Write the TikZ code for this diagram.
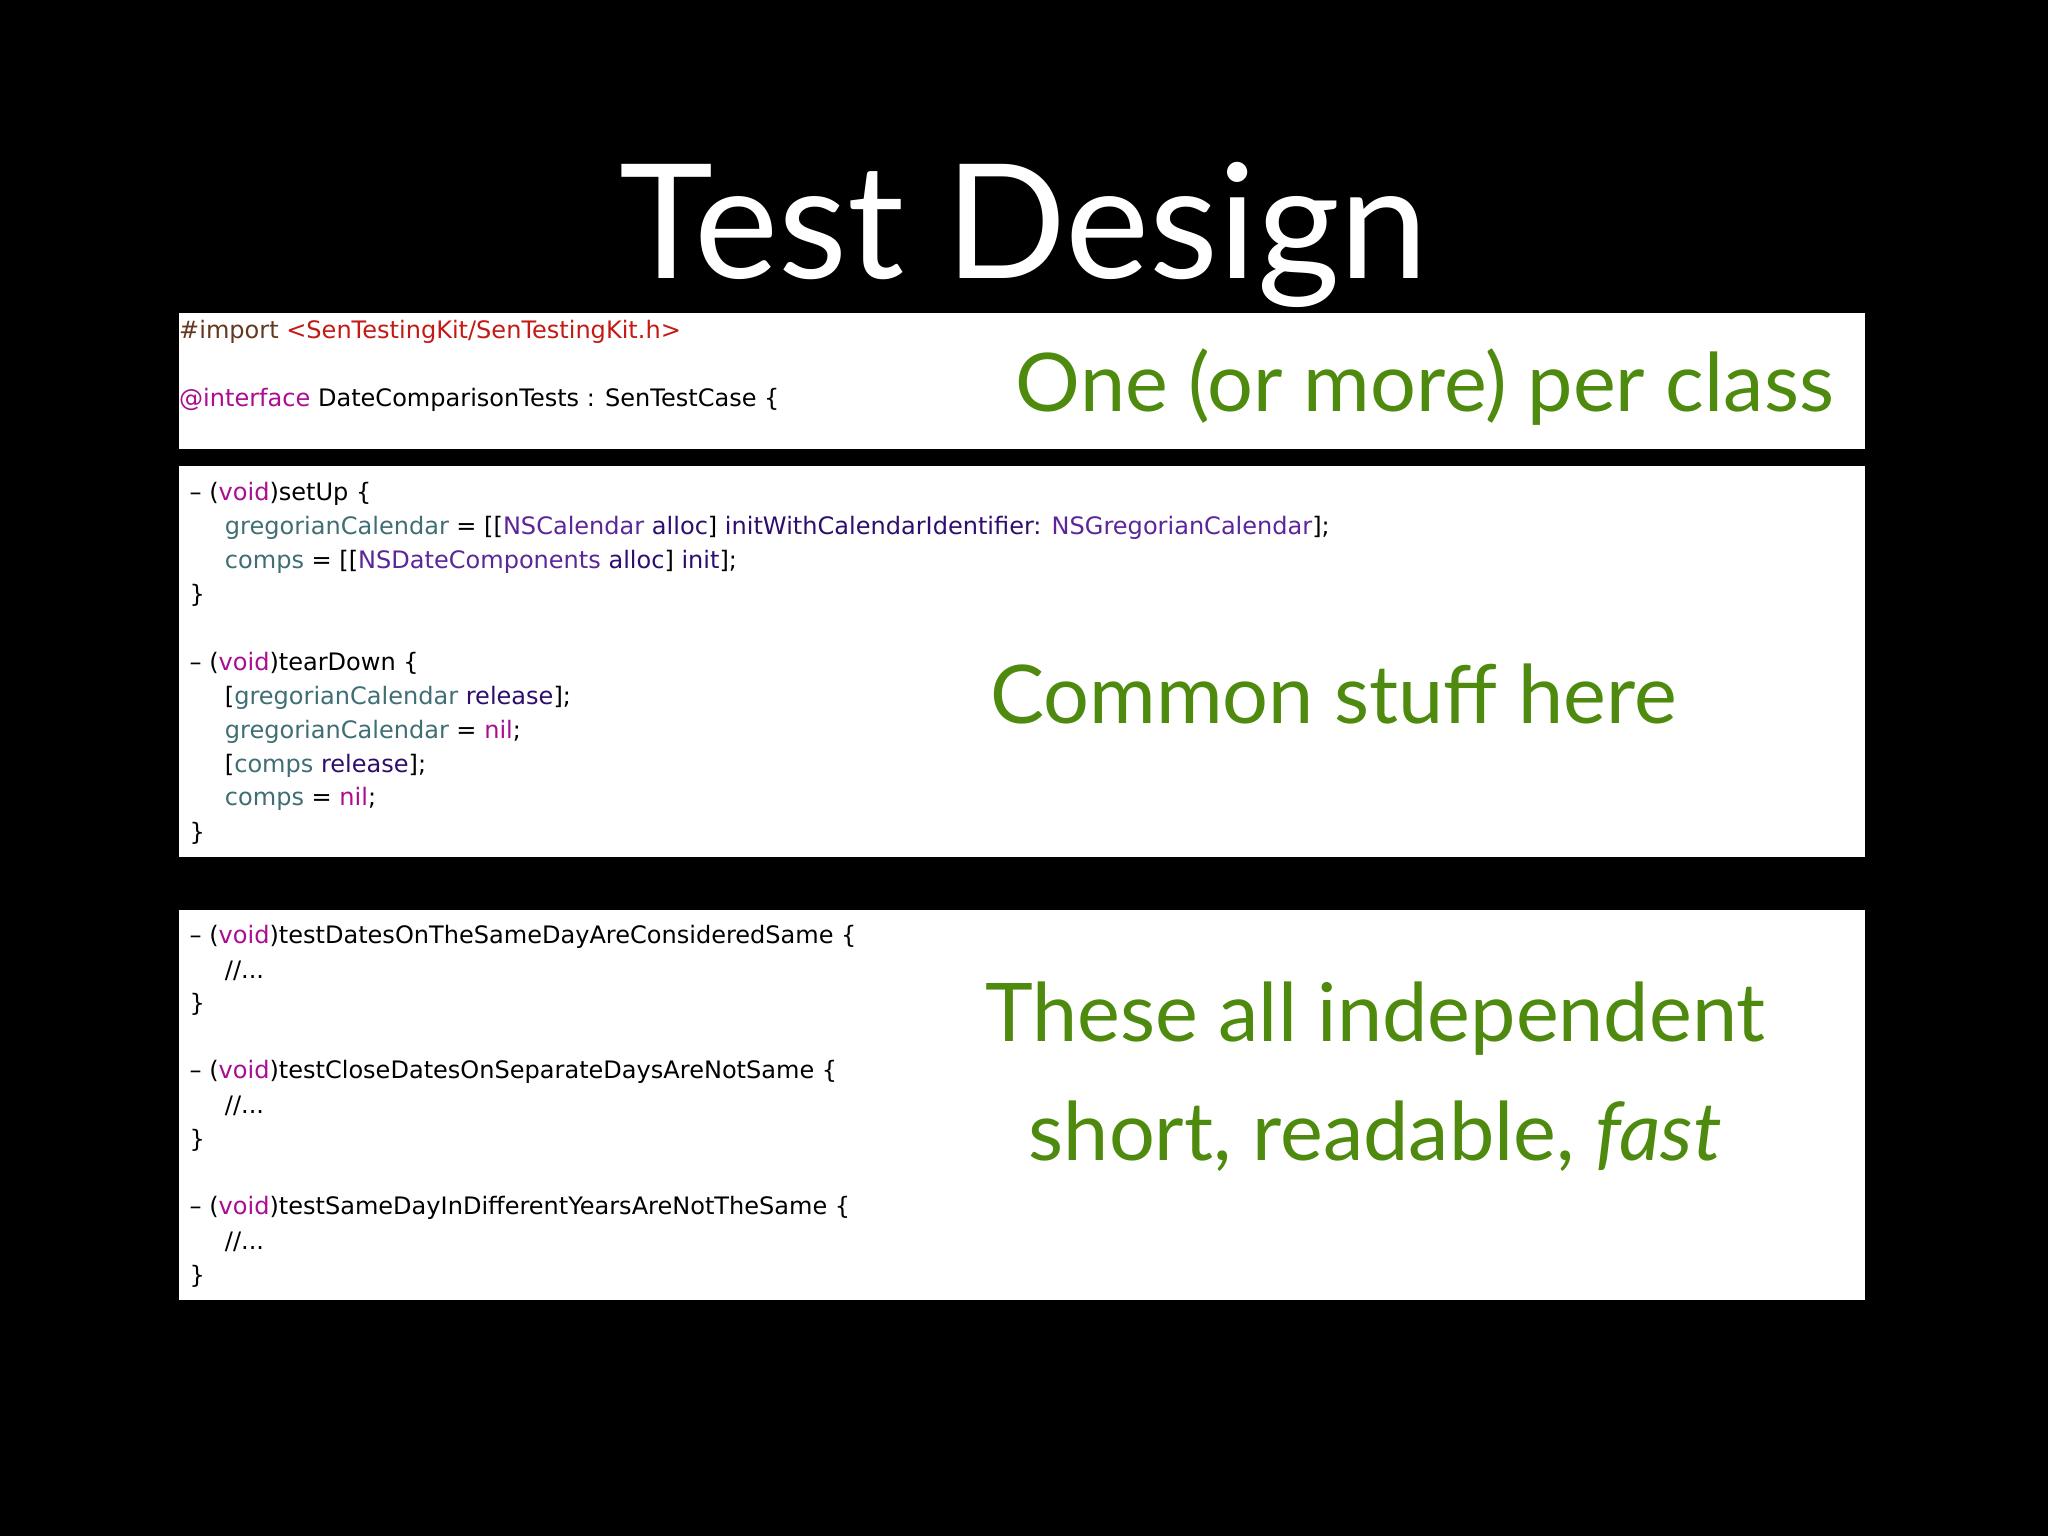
\documentclass[tikz,border=0pt]{standalone}
\usepackage{fontspec}
\setmainfont{Lato}
\newfontfamily\codefont{DejaVu Sans}[Scale=0.92]
\definecolor{kw}{HTML}{AA0D91}
\definecolor{iv}{HTML}{3F6E74}
\definecolor{cls}{HTML}{5C2699}
\definecolor{mth}{HTML}{2E0D6E}
\definecolor{str}{HTML}{C41A16}
\definecolor{pre}{HTML}{643820}
\definecolor{grn}{HTML}{4E8A0E}
\tikzset{code/.style={anchor=west,inner sep=0,font=\codefont\fontsize{20}{24}\selectfont,text=black},
 big/.style={inner sep=0,font=\fontsize{62}{70}\selectfont,text=grn},
 panel/.style={fill=white,draw=none}}
\begin{document}
\begin{tikzpicture}[x=1pt,y=-1pt]
\fill[black] (0,0) rectangle (1568,1176);
\useasboundingbox (0,0) rectangle (1568,1176);
\node[inner sep=0,font=\fontsize{122}{130}\selectfont,text=white] (title) at (784,180) {Test Design};
\fill[panel] (137,240) rectangle (1428,344);
\fill[panel] (137,357) rectangle (1428,656);
\fill[panel] (137,697) rectangle (1428,995);
\node[code] (l1) at (137,254) {\textcolor{pre}{\#import }\textcolor{str}{<SenTestingKit/SenTestingKit.h>}};
\node[code] (l2) at (137,306) {\textcolor{kw}{@interface} DateComparisonTests : SenTestCase \{};
\node[big] (g1) at (1091,296) {One (or more) per class};
\node[code] (s1) at (145,378) {– (\textcolor{kw}{void})setUp \{};
\node[code] (s2) at (172,404) {\textcolor{iv}{gregorianCalendar} = [[\textcolor{cls}{NSCalendar} \textcolor{mth}{alloc}] \textcolor{mth}{initWithCalendarIdentifier:} \textcolor{cls}{NSGregorianCalendar}];};
\node[code] (s3) at (172,430) {\textcolor{iv}{comps} = [[\textcolor{cls}{NSDateComponents} \textcolor{mth}{alloc}] \textcolor{mth}{init}];};
\node[code] (s4) at (145,456) {\}};
\node[code] (t1) at (145,508) {– (\textcolor{kw}{void})tearDown \{};
\node[code] (t2) at (172,534) {[\textcolor{iv}{gregorianCalendar} \textcolor{mth}{release}];};
\node[code] (t3) at (172,560) {\textcolor{iv}{gregorianCalendar} = \textcolor{kw}{nil};};
\node[code] (t4) at (172,586) {[\textcolor{iv}{comps} \textcolor{mth}{release}];};
\node[code] (t5) at (172,612) {\textcolor{iv}{comps} = \textcolor{kw}{nil};};
\node[code] (t6) at (145,638) {\}};
\node[big] (g2) at (1021,531) {Common stuff here};
\node[code] (a1) at (145,717) {– (\textcolor{kw}{void})testDatesOnTheSameDayAreConsideredSame \{};
\node[code] (a2) at (172,743) {//...};
\node[code] (a3) at (145,769) {\}};
\node[code] (b1) at (145,821) {– (\textcolor{kw}{void})testCloseDatesOnSeparateDaysAreNotSame \{};
\node[code] (b2) at (172,847) {//...};
\node[code] (b3) at (145,873) {\}};
\node[code] (c1) at (145,925) {– (\textcolor{kw}{void})testSameDayInDifferentYearsAreNotTheSame \{};
\node[code] (c2) at (172,951) {//...};
\node[code] (c3) at (145,977) {\}};
\node[big] (g3) at (1053,780) {These all independent};
\node[big] (g4) at (1053,870) {short, readable, \textit{fast}};
\end{tikzpicture}
\end{document}
